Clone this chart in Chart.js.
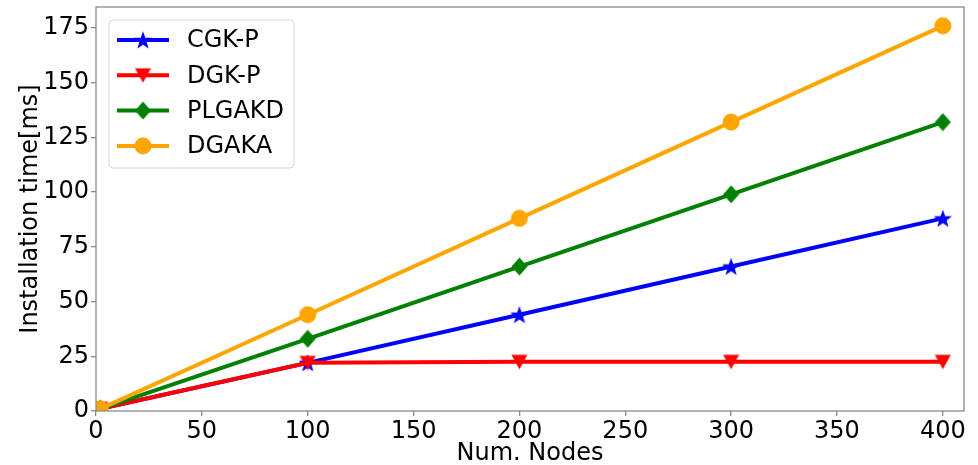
<!DOCTYPE html>
<html><head><meta charset="utf-8">
<script src="https://cdn.jsdelivr.net/npm/chart.js@4/dist/chart.umd.min.js"></script>
<style>html,body{margin:0;padding:0;background:#fff}#wrap{width:978px;height:465px}</style>
</head><body><div id="wrap"><canvas id="c" width="978" height="465"></canvas></div>
<script>
const nodes = [2, 100, 200, 300, 400];
const cgkP = [1, 22, 44, 66, 88];
const dgkP = [1, 22, 22.5, 22.5, 22.5];
const plgakd = [1, 33, 66, 99, 132];
const dgaka = [1, 44, 88, 132, 176];
const xTicks = [0, 50, 100, 150, 200, 250, 300, 350, 400];
const yTicks = [0, 25, 50, 75, 100, 125, 150, 175];
const xTitle = 'Num. Nodes';
const yTitle = 'Installation time[ms]';

const FONT = '"DejaVu Sans", sans-serif';
const FS = 24;

function mk(w, h, draw) {
  const c = document.createElement('canvas');
  c.width = w; c.height = h;
  const g = c.getContext('2d');
  draw(g, w, h);
  return c;
}
function starShape(g, cx, cy, R, r, color) {
  g.beginPath();
  for (let i = 0; i < 10; i++) {
    const rad = i % 2 === 0 ? R : r;
    const a = -Math.PI / 2 + i * Math.PI / 5;
    const px = cx + rad * Math.cos(a), py = cy + rad * Math.sin(a);
    i ? g.lineTo(px, py) : g.moveTo(px, py);
  }
  g.closePath(); g.fillStyle = color; g.fill();
}
const markers = {
  star: c => mk(20, 20, g => starShape(g, 10, 10.8, 9.6, 3.9, c)),
  tri: c => mk(17, 17, g => { g.beginPath(); g.moveTo(0.5, 1.5); g.lineTo(16.5, 1.5); g.lineTo(8.5, 16); g.closePath(); g.fillStyle = c; g.fill(); }),
  diamond: c => mk(17, 19, g => { g.beginPath(); g.moveTo(8.5, 0.5); g.lineTo(16.5, 9.5); g.lineTo(8.5, 18.5); g.lineTo(0.5, 9.5); g.closePath(); g.fillStyle = c; g.fill(); }),
  circle: c => mk(18, 18, g => { g.beginPath(); g.arc(9, 9, 8.5, 0, Math.PI * 2); g.fillStyle = c; g.fill(); })
};

const series = [
  { label: 'CGK-P', data: cgkP, color: '#0000ff', m: 'star' },
  { label: 'DGK-P', data: dgkP, color: '#ff0000', m: 'tri' },
  { label: 'PLGAKD', data: plgakd, color: '#008000', m: 'diamond' },
  { label: 'DGAKA', data: dgaka, color: '#ffa500', m: 'circle' }
];

const datasets = series.map((s, i) => {
  const img = markers[s.m](s.color);
  return {
    label: s.label,
    data: s.data.map((v, k) => ({ x: nodes[k], y: v })),
    borderColor: s.color,
    backgroundColor: s.color,
    borderWidth: 4,
    pointStyle: img,
    pointRadius: 8,
    pointHoverRadius: 8,
    tension: 0,
    order: series.length - 1 - i,
    _img: img
  };
});

const SPINE = '#8a8a8a';

const decor = {
  id: 'decor',
  afterDraw(chart) {
    const { ctx, chartArea: a } = chart;
    ctx.save();
    ctx.strokeStyle = SPINE; ctx.lineWidth = 1.3;
    ctx.strokeRect(a.left, a.top, a.right - a.left, a.bottom - a.top);
    ctx.fillStyle = '#000';
    ctx.font = FS + 'px ' + FONT;
    ctx.textAlign = 'center'; ctx.textBaseline = 'alphabetic';
    ctx.fillText(xTitle, (a.left + a.right) / 2, 460);
    ctx.save();
    ctx.translate(37, (a.top + a.bottom) / 2);
    ctx.rotate(-Math.PI / 2);
    ctx.fillText(yTitle, 0, 0);
    ctx.restore();
    const bx = 109, by = 20, bw = 185, bh = 148, r = 4;
    ctx.beginPath();
    ctx.moveTo(bx + r, by); ctx.lineTo(bx + bw - r, by); ctx.quadraticCurveTo(bx + bw, by, bx + bw, by + r);
    ctx.lineTo(bx + bw, by + bh - r); ctx.quadraticCurveTo(bx + bw, by + bh, bx + bw - r, by + bh);
    ctx.lineTo(bx + r, by + bh); ctx.quadraticCurveTo(bx, by + bh, bx, by + bh - r);
    ctx.lineTo(bx, by + r); ctx.quadraticCurveTo(bx, by, bx + r, by);
    ctx.closePath();
    ctx.fillStyle = 'rgba(255,255,255,0.8)'; ctx.fill();
    ctx.strokeStyle = '#d6d6d6'; ctx.lineWidth = 1; ctx.stroke();
    chart.data.datasets.forEach((d, i) => {
      const y = 40 + i * 35.3;
      ctx.strokeStyle = d.borderColor; ctx.lineWidth = 4;
      ctx.beginPath(); ctx.moveTo(117, y); ctx.lineTo(169, y); ctx.stroke();
      const img = d._img;
      ctx.drawImage(img, 143 - img.width / 2, y - img.height / 2);
      ctx.fillStyle = '#000'; ctx.font = FS + 'px ' + FONT;
      ctx.textAlign = 'left'; ctx.textBaseline = 'middle';
      ctx.fillText(d.label, 187, y + 1);
    });
    ctx.restore();
  }
};

const zeroPad = s => {
  s.paddingTop = 0; s.paddingBottom = 0; s.paddingLeft = 0; s.paddingRight = 0;
};

new Chart(document.getElementById('c'), {
  type: 'line',
  data: { datasets },
  plugins: [decor],
  options: {
    responsive: false,
    animation: false,
    layout: { autoPadding: false, padding: { top: 7, right: 14, left: 0, bottom: 0 } },
    plugins: { legend: { display: false }, tooltip: { enabled: false } },
    scales: {
      x: {
        type: 'linear', min: 0, max: 410,
        afterBuildTicks: s => { s.ticks = xTicks.map(v => ({ value: v })); },
        afterFit: s => { s.height = 54; zeroPad(s); },
        border: { display: false },
        grid: { display: true, drawOnChartArea: false, drawTicks: true, tickLength: 5, color: SPINE, lineWidth: 1.3 },
        ticks: { color: '#000', font: { family: FONT, size: FS }, padding: 1, maxRotation: 0, autoSkip: false }
      },
      y: {
        type: 'linear', min: 0, max: 184.6,
        afterBuildTicks: s => { s.ticks = yTicks.map(v => ({ value: v })); },
        afterFit: s => { s.width = 96; zeroPad(s); },
        border: { display: false },
        grid: { display: true, drawOnChartArea: false, drawTicks: true, tickLength: 5, color: SPINE, lineWidth: 1.3 },
        ticks: { color: '#000', font: { family: FONT, size: FS }, padding: 2, autoSkip: false }
      }
    }
  }
});
</script></body></html>
